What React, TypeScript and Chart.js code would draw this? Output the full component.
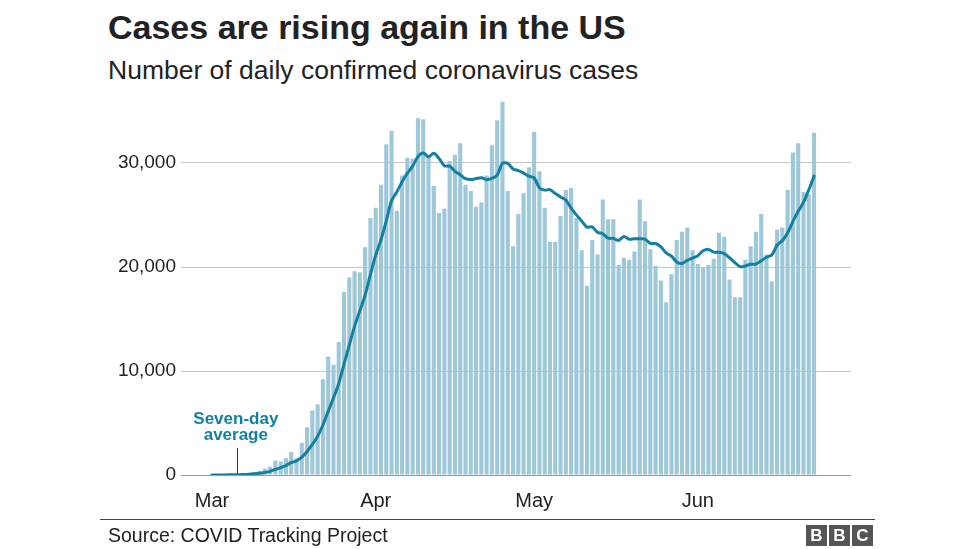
import { useEffect, useRef } from 'react';
import { Chart, registerables } from 'chart.js';

Chart.register(...registerables);

// Days counted from 1 March 2020 (index 0) to 23 June 2020 (index 114)
const monthLabels = ['Mar', 'Apr', 'May', 'Jun'];
const monthStartDay = [0, 31, 61, 92];
const yTickValues = [0, 10000, 20000, 30000];

const dailyCases = [
  10, 20, 25, 35, 70, 60, 130, 150,
  300, 400, 600, 800, 1400, 1300, 1600, 2200, 1600, 3100, 4600, 6200, 6800, 9200, 11400, 10600, 12800,
  17600, 19000, 19600, 19500, 21900, 24700,
  25700, 27900, 31800, 33100, 25400, 28800, 30500, 30400, 34300, 34200,
  30600, 27800, 25200, 25600, 30200, 30800, 31900, 27900, 27300, 25800,
  26200, 28800, 31700, 34100, 35900, 27300, 22000, 25100, 27100, 29600,
  33000, 29200, 25700, 22400, 22400, 24900, 27400, 27600, 24700, 21600,
  18200, 22600, 21200, 26500, 24600, 24600, 20200, 20900, 20700, 21500,
  26500, 24400, 21700, 20100, 18700, 16600, 19300, 22600, 23400, 23800,
  21600, 20300, 19900, 20200, 20800, 23300, 22900, 18800, 17100, 17100,
  20700, 22000, 23400, 25100, 21200, 18600, 23600, 23800, 27400, 31000,
  31900, 27200, 27000, 32900,
];

const sevenDayAverage = [
  0, 4, 8, 13, 23, 31, 50, 70,
  110, 160, 240, 350, 540, 710, 910, 1190, 1360, 1710, 2260, 2940, 3730, 4810, 6130, 7410, 8800,
  10660, 12490, 14310, 15790, 17290, 19300,
  21140, 22610, 24440, 26370, 27210, 28200, 29030, 29700, 30610, 30960,
  30600, 30940, 30430, 29730, 29700, 29200, 28870, 28490, 28410, 28500,
  28590, 28390, 28510, 28830, 29970, 29970, 29430, 29270, 29030, 28730,
  28570, 27610, 27390, 27440, 27060, 26740, 26430, 25660, 25010, 24430,
  23830, 23860, 23330, 23200, 22770, 22760, 22560, 22940, 22670, 22710,
  22710, 22690, 22270, 22260, 21940, 21360, 21040, 20490, 20340, 20640,
  20860, 21090, 21560, 21690, 21430, 21410, 21290, 20890, 20430, 20030,
  20100, 20270, 20290, 20600, 20940, 21160, 22090, 22530, 23300, 24390,
  25360, 26210, 27410, 28740,
];

const annotationLines = ['Seven-day', 'average'];
const annotationDay = 4.7;

const FONT = '"Liberation Sans", Arial, Helvetica, sans-serif';
const TEAL = '#1380A1';
const BAR = '#9ec7d9';

export default function App() {
  const canvasRef = useRef<HTMLCanvasElement>(null);

  useEffect(() => {
    const canvas = canvasRef.current;
    if (!canvas) return;

    const notePlugin = {
      id: 'sevenDayNote',
      beforeDatasetsDraw(chart: any) {
        const { ctx, scales } = chart;
        const px = Math.round(scales.x.getPixelForValue(annotationDay)) + 0.5;
        const y0 = scales.y.getPixelForValue(0);
        ctx.save();
        ctx.strokeStyle = '#333';
        ctx.lineWidth = 1;
        ctx.beginPath();
        ctx.moveTo(px, y0 - 27);
        ctx.lineTo(px, y0 - 1);
        ctx.stroke();
        ctx.restore();
      },
      afterDatasetsDraw(chart: any) {
        const { ctx, scales } = chart;
        const px = scales.x.getPixelForValue(annotationDay);
        const y0 = scales.y.getPixelForValue(0);
        ctx.save();
        ctx.fillStyle = TEAL;
        ctx.font = `bold 17px ${FONT}`;
        ctx.textAlign = 'center';
        ctx.textBaseline = 'alphabetic';
        ctx.fillText(annotationLines[0], px - 1, y0 - 51);
        ctx.fillText(annotationLines[1], px - 1, y0 - 35);
        ctx.restore();
      },
    };

    const chart = new Chart(canvas, {
      type: 'bar',
      data: {
        datasets: [
          {
            type: 'line',
            data: sevenDayAverage.map((v, i) => ({ x: i, y: v })),
            borderColor: TEAL,
            borderWidth: 3,
            pointRadius: 0,
            tension: 0.3,
            borderCapStyle: 'round',
            borderJoinStyle: 'round',
            order: 0,
          } as any,
          {
            type: 'bar',
            data: dailyCases.map((v, i) => ({ x: i, y: v })),
            backgroundColor: BAR,
            barPercentage: 0.78,
            categoryPercentage: 1,
            order: 1,
          } as any,
        ],
      },
      options: {
        animation: false,
        responsive: false,
        maintainAspectRatio: false,
        layout: { padding: { top: 100.6, right: 125, bottom: 0, left: 0 } },
        plugins: { legend: { display: false }, tooltip: { enabled: false } },
        scales: {
          x: {
            type: 'linear',
            min: -5.87,
            max: 121,
            offset: false,
            grid: { display: false },
            border: { display: false },
            afterBuildTicks: (s: any) => {
              s.ticks = monthStartDay.map((v) => ({ value: v }));
            },
            afterFit: (s: any) => {
              s.height = 74;
            },
            ticks: {
              autoSkip: false,
              maxRotation: 0,
              padding: 6,
              color: '#222',
              font: { size: 20, family: FONT },
              callback: (v: any) => {
                const i = monthStartDay.indexOf(Number(v));
                return i >= 0 ? monthLabels[i] : '';
              },
            },
          } as any,
          y: {
            min: 0,
            max: 36000,
            afterBuildTicks: (s: any) => {
              s.ticks = yTickValues.map((v) => ({ value: v }));
            },
            afterFit: (s: any) => {
              s.width = 181;
            },
            grid: {
              color: (c: any) => (c.tick && c.tick.value === 0 ? '#9a9a9a' : '#c6c6c6'),
              drawTicks: false,
              lineWidth: 1,
            },
            border: { display: false },
            ticks: {
              padding: 5,
              color: '#222',
              font: { size: 19, family: FONT },
              callback: (v: any) => Number(v).toLocaleString('en-US'),
            },
          } as any,
        },
      },
      plugins: [notePlugin],
    });

    return () => chart.destroy();
  }, []);

  const box = (left: number, letter: string) => (
    <div
      style={{
        position: 'absolute',
        left,
        top: 525,
        width: 21,
        height: 21,
        background: '#555',
        color: '#fff',
        fontWeight: 700,
        fontSize: 17,
        lineHeight: '21px',
        textAlign: 'center',
      }}
    >
      {letter}
    </div>
  );

  return (
    <div
      style={{
        position: 'fixed',
        left: 0,
        top: 0,
        width: 976,
        height: 549,
        background: '#fff',
        fontFamily: FONT,
        color: '#222',
        overflow: 'hidden',
      }}
    >
      <div style={{ position: 'absolute', left: 108, top: 10, fontSize: 34, fontWeight: 700, lineHeight: 1, whiteSpace: 'nowrap' }}>
        Cases are rising again in the US
      </div>
      <div style={{ position: 'absolute', left: 108, top: 57, fontSize: 26.5, lineHeight: 1, whiteSpace: 'nowrap' }}>
        Number of daily confirmed coronavirus cases
      </div>
      <canvas ref={canvasRef} width={976} height={549} style={{ position: 'absolute', left: 0, top: 0 }} />
      <div style={{ position: 'absolute', left: 100, top: 519, width: 775, height: 1, background: '#444' }} />
      <div style={{ position: 'absolute', left: 108, top: 526, fontSize: 19.5, lineHeight: 1, whiteSpace: 'nowrap' }}>
        Source: COVID Tracking Project
      </div>
      {box(806, 'B')}
      {box(829, 'B')}
      {box(852, 'C')}
    </div>
  );
}
